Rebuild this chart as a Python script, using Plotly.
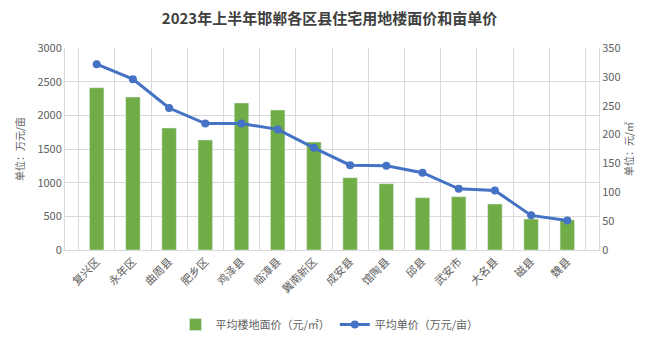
import plotly.graph_objects as go

districts = ["复兴区", "永年区", "曲周县", "肥乡区", "鸡泽县", "临漳县", "冀南新区",
             "成安县", "馆陶县", "邱县", "武安市", "大名县", "磁县", "魏县"]
floor_price = [2410, 2272, 1812, 1634, 2183, 2079, 1604, 1074, 985, 777, 792, 683, 460, 446]
mu_price = [322, 296, 246, 219, 219, 209, 177, 147, 146, 134, 106, 103, 60, 51]

left_ticks = [0, 500, 1000, 1500, 2000, 2500, 3000]
right_ticks = [0, 50, 100, 150, 200, 250, 300, 350]

FONT = "Noto Sans CJK SC"
GRID = "#d9d9d9"
TXT = "#606060"

fig = go.Figure()
fig.add_trace(go.Bar(
    x=districts, y=floor_price, name="平均楼地面价（元/㎡）",
    marker_color="#70AD47", width=0.4, yaxis="y",
))
fig.add_trace(go.Scatter(
    x=districts, y=mu_price, name="平均单价（万元/亩）", yaxis="y2",
    mode="lines+markers", line=dict(color="#4472C4", width=3),
    marker=dict(size=8, color="#4472C4"),
))

fig.update_layout(
    width=659, height=340,
    margin=dict(l=65, r=60, t=48, b=90, autoexpand=False),
    paper_bgcolor="white", plot_bgcolor="white",
    font=dict(family=FONT, size=11, color=TXT),
    title=dict(text="<b>2023年上半年邯郸各区县住宅用地楼面价和亩单价</b>",
               x=0.5, xanchor="center", y=0.945, yanchor="middle",
               font=dict(family=FONT, size=15, color="#404040")),
    xaxis=dict(type="category", tickson="boundaries", showgrid=True, gridcolor=GRID,
               gridwidth=1, tickangle=-45, ticks="", showline=True, linecolor=GRID,
               tickfont=dict(size=11, color=TXT), automargin=False),
    yaxis=dict(range=[0, 3000], tickvals=left_ticks, showgrid=True, gridcolor=GRID,
               zeroline=False, showline=True, linecolor=GRID, ticks="", automargin=False,
               tickfont=dict(size=11, color=TXT),
               title=dict(text="单位：万元/亩", font=dict(size=10, color=TXT), standoff=10)),
    yaxis2=dict(range=[0, 350], tickvals=right_ticks, overlaying="y", side="right",
                showgrid=False, zeroline=False, showline=True, linecolor=GRID, ticks="",
                automargin=False, tickfont=dict(size=11, color=TXT),
                title=dict(text="单位：元/㎡", font=dict(size=10, color=TXT), standoff=2)),
    legend=dict(orientation="h", x=0.5, xanchor="center", xref="container",
                y=0.088, yanchor="top", yref="container",
                font=dict(size=11, color=TXT), traceorder="normal"),
    bargap=0.6,
)

fig.write_html("out.html")
